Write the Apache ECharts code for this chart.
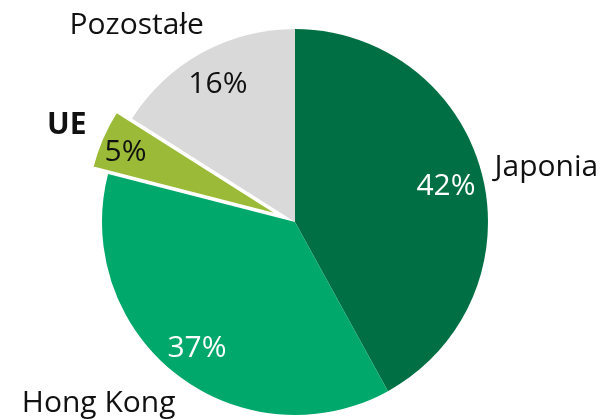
<!DOCTYPE html>
<html>
<head>
<meta charset="utf-8">
<script src="https://cdn.jsdelivr.net/npm/echarts@6/dist/echarts.min.js"></script>
<style>
html,body{margin:0;padding:0;background:#fff;}
#c{width:606px;height:419px;}
</style>
</head>
<body>
<div id="c"></div>
<script>
const categories = ['Japonia', 'Hong Kong', 'UE', 'Pozostałe'];
const shares = [42, 37, 5, 16];
const colors = ['#006F44', '#00A86B', '#9BBB38', '#D9D9D9'];
const pctColors = ['#ffffff', '#ffffff', '#111111', '#111111'];
const exploded = [false, false, true, false];

const FONT = '"Open Sans", "Noto Sans", sans-serif';
const nameOffsets = [[-2, -3], [8, 17], [-2, -7], [9, -14]];
const pctOffsets = [[-4, 4], [0, 0], [-7, 1], [0, 3]];

const chart = echarts.init(document.getElementById('c'), null, {renderer: 'canvas'});

const mainData = categories.map((n, i) => ({
  name: n,
  value: shares[i],
  selected: exploded[i],
  itemStyle: exploded[i] ? {color: colors[i], borderColor: '#fff', borderWidth: 2} : {color: colors[i]},
  label: {fontWeight: n === 'UE' ? 'bold' : 'normal'}
}));
const pctData = categories.map((n, i) => ({
  name: n,
  value: shares[i],
  selected: exploded[i],
  label: {color: pctColors[i]}
}));

chart.setOption({
  animation: false,
  backgroundColor: '#fff',
  series: [
    {
      type: 'pie',
      center: [295, 222],
      radius: 193,
      startAngle: 90,
      clockwise: true,
      selectedMode: 'single',
      selectedOffset: 17,
      avoidLabelOverlap: false,
      silent: true,
      label: {
        show: true,
        position: 'outside',
        formatter: '{b}',
        color: '#111111',
        fontFamily: FONT,
        fontSize: 30,
        distanceToLabelLine: 0
      },
      labelLine: {show: false, length: 15, length2: 0},
      labelLayout: function (p) {
        const o = nameOffsets[p.dataIndex];
        return {dx: o[0], dy: o[1]};
      },
      emphasis: {disabled: true},
      data: mainData
    },
    {
      type: 'pie',
      center: [295, 222],
      radius: [121, 193],
      startAngle: 90,
      clockwise: true,
      selectedMode: 'single',
      selectedOffset: 17,
      avoidLabelOverlap: false,
      silent: true,
      itemStyle: {color: 'rgba(0,0,0,0)', borderWidth: 0},
      label: {
        show: true,
        position: 'inside',
        formatter: '{c}%',
        fontFamily: FONT,
        fontSize: 30
      },
      labelLayout: function (p) {
        const o = pctOffsets[p.dataIndex];
        return {dx: o[0], dy: o[1]};
      },
      emphasis: {disabled: true},
      data: pctData
    }
  ]
});
</script>
</body>
</html>
